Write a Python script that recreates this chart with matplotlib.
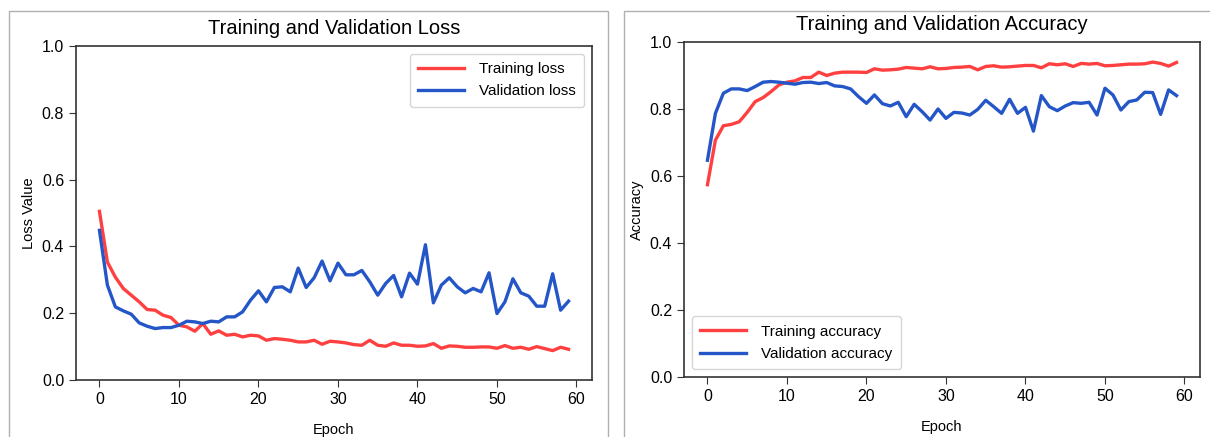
import matplotlib.pyplot as plt
from matplotlib.patches import Rectangle

plt.rcParams['font.family'] = ['Liberation Sans', 'DejaVu Sans']

epochs = list(range(60))

train_loss = [0.505, 0.353, 0.308, 0.274, 0.254, 0.234, 0.211, 0.209, 0.194, 0.187,
              0.164, 0.159, 0.146, 0.169, 0.137, 0.147, 0.134, 0.137, 0.129, 0.134,
              0.132, 0.119, 0.124, 0.122, 0.119, 0.114, 0.114, 0.119, 0.107, 0.116,
              0.114, 0.111, 0.106, 0.104, 0.119, 0.104, 0.101, 0.111, 0.104, 0.104,
              0.101, 0.102, 0.109, 0.095, 0.102, 0.101, 0.098, 0.098, 0.099, 0.099,
              0.095, 0.103, 0.095, 0.098, 0.092, 0.100, 0.094, 0.088, 0.098, 0.092]
val_loss = [0.448, 0.284, 0.219, 0.207, 0.197, 0.171, 0.161, 0.154, 0.157, 0.157,
            0.164, 0.176, 0.174, 0.169, 0.176, 0.174, 0.189, 0.189, 0.204, 0.239,
            0.267, 0.234, 0.277, 0.279, 0.264, 0.335, 0.277, 0.306, 0.356, 0.297,
            0.350, 0.315, 0.315, 0.328, 0.294, 0.254, 0.289, 0.313, 0.249, 0.320,
            0.287, 0.405, 0.231, 0.284, 0.306, 0.279, 0.261, 0.274, 0.264, 0.321,
            0.199, 0.234, 0.303, 0.261, 0.251, 0.221, 0.221, 0.318, 0.209, 0.236]

train_acc = [0.574, 0.707, 0.750, 0.754, 0.762, 0.790, 0.822, 0.834, 0.852, 0.872,
             0.880, 0.884, 0.894, 0.894, 0.910, 0.900, 0.907, 0.910, 0.910, 0.910,
             0.909, 0.920, 0.916, 0.917, 0.919, 0.924, 0.922, 0.920, 0.926, 0.920,
             0.921, 0.924, 0.925, 0.927, 0.917, 0.927, 0.929, 0.925, 0.926, 0.928,
             0.930, 0.930, 0.923, 0.935, 0.932, 0.935, 0.927, 0.936, 0.934, 0.936,
             0.929, 0.930, 0.932, 0.934, 0.934, 0.935, 0.940, 0.936, 0.928, 0.939]
val_acc = [0.647, 0.787, 0.847, 0.860, 0.860, 0.855, 0.867, 0.880, 0.882, 0.880,
           0.877, 0.874, 0.879, 0.880, 0.876, 0.879, 0.869, 0.867, 0.860, 0.837,
           0.817, 0.842, 0.816, 0.809, 0.820, 0.777, 0.814, 0.792, 0.767, 0.800,
           0.772, 0.790, 0.788, 0.782, 0.799, 0.826, 0.807, 0.787, 0.829, 0.787,
           0.805, 0.734, 0.840, 0.807, 0.795, 0.809, 0.819, 0.817, 0.820, 0.782,
           0.862, 0.842, 0.797, 0.822, 0.827, 0.850, 0.849, 0.784, 0.857, 0.840]

red = '#ff4040'
blue = '#2456c8'

fig = plt.figure(figsize=(12.1, 4.37), dpi=100)

# panel frames (two screenshots side by side)
fig.patches.append(Rectangle((9 / 1210, -0.05), 599 / 1210, 1 - 11 / 437 + 0.05,
                             transform=fig.transFigure, fill=False,
                             edgecolor='#b0b0b0', linewidth=1))
fig.patches.append(Rectangle((624 / 1210, -0.05), 0.6, 1 - 11 / 437 + 0.05,
                             transform=fig.transFigure, fill=False,
                             edgecolor='#b0b0b0', linewidth=1))

ax1 = fig.add_axes([76 / 1210, 1 - 380 / 437, 516 / 1210, 334 / 437])
ax2 = fig.add_axes([684 / 1210, 1 - 377 / 437, 516 / 1210, 335 / 437])

leg_kw = dict(fontsize=11, handlelength=3.0, handletextpad=1.0,
              borderpad=0.55, labelspacing=0.55)

ax1.plot(epochs, train_loss, color=red, lw=2.4, label='Training loss')
ax1.plot(epochs, val_loss, color=blue, lw=2.4, label='Validation loss')
ax1.set_title('Training and Validation Loss', fontsize=14.5, pad=9)
ax1.set_xlabel('Epoch', fontsize=10.5, labelpad=12)
ax1.set_ylabel('Loss Value', fontsize=10.5, labelpad=4)
ax1.set_ylim(0, 1)
ax1.legend(loc='upper right', **leg_kw)

ax2.plot(epochs, train_acc, color=red, lw=2.4, label='Training accuracy')
ax2.plot(epochs, val_acc, color=blue, lw=2.4, label='Validation accuracy')
ax2.set_title('Training and Validation Accuracy', fontsize=14.5, pad=9)
ax2.set_xlabel('Epoch', fontsize=10.5, labelpad=12)
ax2.set_ylabel('Accuracy', fontsize=10.5, labelpad=4)
ax2.set_ylim(0, 1)
ax2.legend(loc='lower left', **leg_kw)

for ax in (ax1, ax2):
    ax.set_xticks([0, 10, 20, 30, 40, 50, 60])
    ax.set_yticks([0.0, 0.2, 0.4, 0.6, 0.8, 1.0])
    ax.tick_params(labelsize=11.5, color='#333333', length=5)
    for s in ax.spines.values():
        s.set_color('#333333')
        s.set_linewidth(1.2)

fig.savefig('out.png', dpi=100)
